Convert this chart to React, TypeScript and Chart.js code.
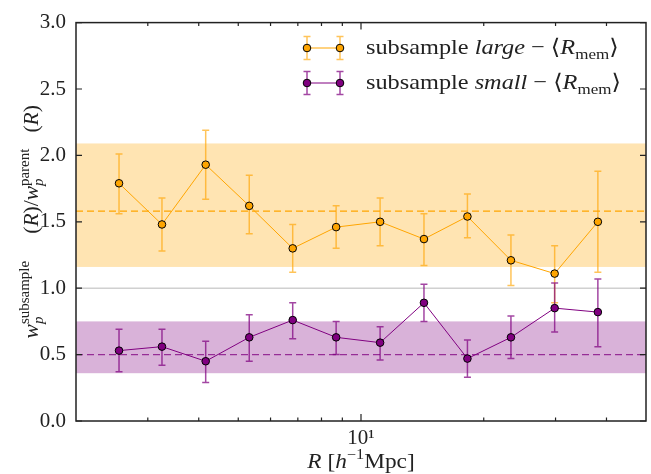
import { useEffect, useRef } from 'react';
import { Chart, registerables } from 'chart.js';

Chart.register(...registerables);

// ---- data ----
const radii = [2.55, 3.25, 4.16, 5.32, 6.8, 8.69, 11.14, 14.27, 18.24, 23.32, 29.85, 38.1];

const largeRatio = [1.79, 1.48, 1.93, 1.62, 1.3, 1.46, 1.5, 1.37, 1.54, 1.21, 1.11, 1.5];
const largeLow = [1.56, 1.28, 1.67, 1.41, 1.12, 1.3, 1.32, 1.17, 1.38, 1.02, 0.89, 1.12];
const largeHigh = [2.01, 1.68, 2.19, 1.85, 1.48, 1.62, 1.68, 1.56, 1.71, 1.4, 1.32, 1.88];

const smallRatio = [0.53, 0.56, 0.45, 0.63, 0.76, 0.63, 0.59, 0.89, 0.47, 0.63, 0.85, 0.82];
const smallLow = [0.37, 0.42, 0.29, 0.45, 0.62, 0.5, 0.46, 0.75, 0.33, 0.47, 0.67, 0.56];
const smallHigh = [0.69, 0.69, 0.6, 0.8, 0.89, 0.75, 0.71, 1.03, 0.61, 0.79, 1.04, 1.07];

const largeMean = 1.58;
const largeBand = [1.16, 2.09];
const smallMean = 0.5;
const smallBand = [0.36, 0.75];
const unityLine = 1.0;

const xRange = [2, 50];
const yRange = [0, 3];
const yStep = 0.5;
const xMajorTicks = [10];
const xMinorTicks = [3, 4, 5, 6, 7, 8, 9, 20, 30, 40];
const yTickValues = [0, 0.5, 1, 1.5, 2, 2.5, 3];

// ---- styles ----
const ORANGE = '#FFA500';
const PURPLE = '#800080';
const FAMILY = '"Liberation Serif", "DejaVu Serif", serif';
const BASE = 21;

type Run = { t: string; it?: boolean; script?: 'sub' | 'sup' };
type Stack = { sub: Run; sup: Run };
type Item = Run | Stack;

const fontOf = (size: number, it?: boolean) => `${it ? 'italic ' : ''}${size}px ${FAMILY}`;
const SCRIPT = 0.7;

function runWidth(ctx: CanvasRenderingContext2D, r: Run, size: number) {
  const s = r.script ? size * SCRIPT : size;
  ctx.font = fontOf(s, r.it);
  return ctx.measureText(r.t).width;
}
function itemWidth(ctx: CanvasRenderingContext2D, it: Item, size: number) {
  if ('sub' in it) return Math.max(runWidth(ctx, it.sub, size), runWidth(ctx, it.sup, size));
  return runWidth(ctx, it, size);
}
function drawRun(ctx: CanvasRenderingContext2D, r: Run, x: number, y: number, size: number) {
  const s = r.script ? size * SCRIPT : size;
  ctx.font = fontOf(s, r.it);
  const dy = r.script === 'sub' ? size * 0.24 : r.script === 'sup' ? -size * 0.42 : 0;
  ctx.fillText(r.t, x, y + dy);
}
function drawRich(
  ctx: CanvasRenderingContext2D,
  items: Item[],
  x: number,
  y: number,
  size: number,
  align: 'left' | 'center',
  hscale = 1
) {
  const total = items.reduce((a, it) => a + itemWidth(ctx, it, size), 0) * hscale;
  const start = align === 'center' ? x - total / 2 : x;
  ctx.save();
  ctx.translate(start, y);
  ctx.scale(hscale, 1);
  ctx.textAlign = 'left';
  ctx.textBaseline = 'alphabetic';
  let cx = 0;
  for (const it of items) {
    const w = itemWidth(ctx, it, size);
    if ('sub' in it) {
      drawRun(ctx, { ...it.sub, script: 'sub' }, cx, 0, size);
      drawRun(ctx, { ...it.sup, script: 'sup' }, cx, 0, size);
    } else {
      drawRun(ctx, it, cx, 0, size);
    }
    cx += w;
  }
  ctx.restore();
}

const legendEntries = [
  {
    color: ORANGE,
    barColor: 'rgba(255,165,0,0.65)',
    label: [
      { t: 'subsample ' },
      { t: 'large', it: true },
      { t: ' \u2212 \u27E8' },
      { t: 'R', it: true },
      { t: 'mem', script: 'sub' },
      { t: '\u27E9' },
    ] as Item[],
  },
  {
    color: PURPLE,
    barColor: 'rgba(128,0,128,0.72)',
    label: [
      { t: 'subsample ' },
      { t: 'small', it: true },
      { t: ' \u2212 \u27E8' },
      { t: 'R', it: true },
      { t: 'mem', script: 'sub' },
      { t: '\u27E9' },
    ] as Item[],
  },
];

const yTitle: Item[] = [
  { t: 'w', it: true },
  { sub: { t: 'p', it: true }, sup: { t: 'subsample' } },
  { t: '(' },
  { t: 'R', it: true },
  { t: ')/' },
  { t: 'w', it: true },
  { sub: { t: 'p', it: true }, sup: { t: 'parent' } },
  { t: '(' },
  { t: 'R', it: true },
  { t: ')' },
];
const xTitle: Item[] = [
  { t: 'R', it: true },
  { t: ' [' },
  { t: 'h', it: true },
  { t: '\u22121', script: 'sup' },
  { t: 'Mpc]' },
];

function drawErrorBars(ctx: CanvasRenderingContext2D, chart: any, lo: number[], hi: number[], color: string) {
  const { x, y } = chart.scales;
  ctx.strokeStyle = color;
  ctx.lineWidth = 1.5;
  radii.forEach((r, i) => {
    const px = x.getPixelForValue(r);
    const y1 = y.getPixelForValue(hi[i]);
    const y2 = y.getPixelForValue(lo[i]);
    ctx.beginPath();
    ctx.moveTo(px, y1);
    ctx.lineTo(px, y2);
    ctx.moveTo(px - 3.5, y1);
    ctx.lineTo(px + 3.5, y1);
    ctx.moveTo(px - 3.5, y2);
    ctx.lineTo(px + 3.5, y2);
    ctx.stroke();
  });
}

const decorPlugin = {
  id: 'decor',
  beforeDatasetsDraw(chart: any) {
    const { ctx, chartArea: a, scales } = chart;
    const y = scales.y;
    ctx.save();
    const band = (b: number[], color: string) => {
      const y1 = y.getPixelForValue(b[1]);
      const y2 = y.getPixelForValue(b[0]);
      ctx.fillStyle = color;
      ctx.fillRect(a.left, y1, a.right - a.left, y2 - y1);
    };
    band(largeBand, 'rgba(255,165,0,0.3)');
    band(smallBand, 'rgba(128,0,128,0.3)');
    const hline = (v: number, color: string, lw: number, dash: number[]) => {
      const py = y.getPixelForValue(v);
      ctx.strokeStyle = color;
      ctx.lineWidth = lw;
      ctx.setLineDash(dash);
      ctx.beginPath();
      ctx.moveTo(a.left, py);
      ctx.lineTo(a.right, py);
      ctx.stroke();
      ctx.setLineDash([]);
    };
    hline(unityLine, '#d0d0d0', 1.5, []);
    hline(largeMean, ORANGE, 1.3, [7, 4]);
    hline(smallMean, 'rgba(128,0,128,0.75)', 1.3, [7, 4]);
    drawErrorBars(ctx, chart, largeLow, largeHigh, 'rgba(255,165,0,0.65)');
    drawErrorBars(ctx, chart, smallLow, smallHigh, 'rgba(128,0,128,0.72)');
    ctx.restore();
  },
  afterDraw(chart: any) {
    const { ctx, chartArea: a, scales } = chart;
    const { x, y } = scales;
    ctx.save();
    // frame
    ctx.strokeStyle = '#222';
    ctx.lineWidth = 1.5;
    ctx.strokeRect(a.left, a.top, a.right - a.left, a.bottom - a.top);
    // inward ticks
    ctx.lineWidth = 1.2;
    ctx.beginPath();
    const xt = (v: number, len: number) => {
      const px = x.getPixelForValue(v);
      ctx.moveTo(px, a.bottom);
      ctx.lineTo(px, a.bottom - len);
      ctx.moveTo(px, a.top);
      ctx.lineTo(px, a.top + len);
    };
    xMajorTicks.forEach((v) => xt(v, 7));
    xMinorTicks.forEach((v) => xt(v, 3.5));
    yTickValues.forEach((v) => {
      const py = y.getPixelForValue(v);
      ctx.moveTo(a.left, py);
      ctx.lineTo(a.left + 6, py);
      ctx.moveTo(a.right, py);
      ctx.lineTo(a.right - 6, py);
    });
    ctx.stroke();

    // legend
    const lx1 = 307;
    const lx2 = 340;
    const rows = [48, 83];
    legendEntries.forEach((e, i) => {
      const ry = rows[i];
      ctx.strokeStyle = e.color;
      ctx.lineWidth = 1;
      ctx.beginPath();
      ctx.moveTo(lx1, ry);
      ctx.lineTo(lx2, ry);
      ctx.stroke();
      ctx.strokeStyle = e.barColor;
      ctx.lineWidth = 1.5;
      ctx.beginPath();
      [lx1, lx2].forEach((px) => {
        ctx.moveTo(px, ry - 11.5);
        ctx.lineTo(px, ry + 11.5);
        ctx.moveTo(px - 3.5, ry - 11.5);
        ctx.lineTo(px + 3.5, ry - 11.5);
        ctx.moveTo(px - 3.5, ry + 11.5);
        ctx.lineTo(px + 3.5, ry + 11.5);
      });
      ctx.stroke();
      [lx1, lx2].forEach((px) => {
        ctx.beginPath();
        ctx.arc(px, ry, 3.8, 0, Math.PI * 2);
        ctx.fillStyle = e.color;
        ctx.fill();
        ctx.strokeStyle = '#000';
        ctx.lineWidth = 1;
        ctx.stroke();
      });
      ctx.fillStyle = '#222';
      drawRich(ctx, e.label, 366, ry + 5.5, 21.5, 'left', 1.13);
    });

    // axis titles
    ctx.fillStyle = '#222';
    drawRich(ctx, xTitle, (a.left + a.right) / 2, 468, BASE, 'center', 1.11);
    ctx.translate(38, (a.top + a.bottom) / 2);
    ctx.rotate(-Math.PI / 2);
    drawRich(ctx, yTitle, 0, 0, BASE, 'center', 1.02);
    ctx.restore();
  },
};

export default function App() {
  const ref = useRef<HTMLCanvasElement | null>(null);
  useEffect(() => {
    document.body.style.margin = '0';
    const canvas = ref.current;
    if (!canvas) return;
    const mk = (vals: number[]) => radii.map((r, i) => ({ x: r, y: vals[i] }));
    const chart = new Chart(canvas, {
      type: 'scatter',
      data: {
        datasets: [
          {
            label: 'subsample large',
            data: mk(largeRatio),
            showLine: true,
            borderColor: ORANGE,
            borderWidth: 1,
            pointBackgroundColor: ORANGE,
            pointBorderColor: '#000',
            pointBorderWidth: 1,
            pointRadius: 3.8,
          },
          {
            label: 'subsample small',
            data: mk(smallRatio),
            showLine: true,
            borderColor: PURPLE,
            borderWidth: 1,
            pointBackgroundColor: PURPLE,
            pointBorderColor: '#000',
            pointBorderWidth: 1,
            pointRadius: 3.8,
          },
        ],
      },
      options: {
        animation: false,
        responsive: false,
        devicePixelRatio: 1,
        layout: { padding: { top: 16, right: 4, left: 0, bottom: 0 } },
        plugins: { legend: { display: false }, tooltip: { enabled: false } },
        scales: {
          x: {
            type: 'logarithmic',
            min: xRange[0],
            max: xRange[1],
            grid: { display: false, drawTicks: false },
            border: { display: false },
            afterBuildTicks: (s: any) => {
              s.ticks = xMajorTicks.map((v) => ({ value: v, major: true }));
            },
            afterFit: (s: any) => {
              s.height = 53;
            },
            ticks: {
              autoSkip: false,
              maxRotation: 0,
              padding: 5,
              color: '#222',
              font: { family: FAMILY, size: BASE },
              callback: (v: any) => (Number(v) === 10 ? '10\u00B9' : ''),
            },
          },
          y: {
            type: 'linear',
            min: yRange[0],
            max: yRange[1],
            grid: { display: false, drawTicks: false },
            border: { display: false },
            afterFit: (s: any) => {
              s.width = 76;
            },
            ticks: {
              stepSize: yStep,
              padding: 10,
              color: '#222',
              font: { family: FAMILY, size: BASE },
              callback: (v: any) => Number(v).toFixed(1),
            },
          },
        },
      },
      plugins: [decorPlugin],
    });
    return () => chart.destroy();
  }, []);
  return (
    <div style={{ width: 651, height: 474 }}>
      <canvas ref={ref} width={651} height={474} style={{ display: 'block' }} />
    </div>
  );
}
